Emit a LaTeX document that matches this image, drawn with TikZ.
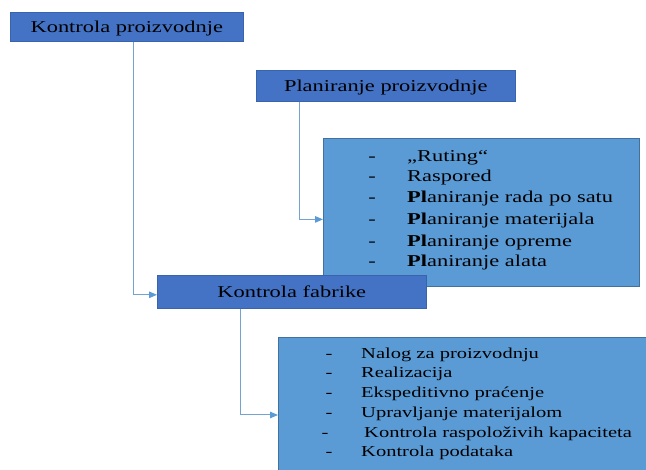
\documentclass[tikz,border=0pt]{standalone}
\usepackage{fontspec}
\setmainfont{Liberation Serif}[FakeStretch=1.35]
\usetikzlibrary{arrows.meta,calc}
\definecolor{darkblue}{HTML}{4472C4}
\definecolor{darkedge}{HTML}{3A63AE}
\definecolor{lightblue}{HTML}{5B9BD5}
\definecolor{lightedge}{HTML}{41719C}
\definecolor{connc}{HTML}{74A3D2}
\definecolor{tipc}{HTML}{5B9BD5}
\begin{document}
\begin{tikzpicture}[x=1pt,y=-1pt,
  darkbox/.style={draw=darkedge,fill=darkblue,line width=0.6pt,inner sep=0pt,
    text height=13pt,text depth=2pt,font=\fontsize{16.6}{20}\selectfont},
  listbox/.style={draw=lightedge,fill=lightblue,line width=0.8pt,inner sep=0pt,anchor=north west},
  itemtxt/.style={anchor=base west,inner sep=0pt,font=\fontsize{16.6}{20}\selectfont},
  dashtxt/.style={anchor=base,inner sep=0pt,font=\fontsize{16.6}{20}\selectfont},
  itemtxtb/.style={itemtxt,font=\fontsize{15.2}{18}\selectfont},
  dashtxtb/.style={dashtxt,font=\fontsize{15.2}{18}\selectfont},
  conn/.style={draw=connc,line width=1pt,-{Triangle[length=8pt,width=6.5pt,fill=tipc,color=tipc]}}]
\useasboundingbox (0,0) rectangle (646,470);
\fill[white] (0,0) rectangle (646,470);

% list boxes
\node[listbox,minimum width=316,minimum height=148] (l1) at (323,138) {};
\node[fill=lightblue,inner sep=0pt,anchor=north west,minimum width=368,minimum height=133] (l2) at (278,337) {};
\draw[lightedge,line width=0.8pt] (l2.south west) -- (l2.north west) -- (l2.north east);

% header boxes
\node[darkbox,minimum width=233,minimum height=29,anchor=north west] (kp) at (10,12) {Kontrola proizvodnje};
\node[darkbox,minimum width=259,minimum height=31,anchor=north west] (pp) at (256,70) {Planiranje proizvodnje};
\node[darkbox,minimum width=269,minimum height=33,anchor=north west] (kf) at (157,275) {Kontrola fabrike};

% list 1
\foreach \t/\y [count=\i] in {„Ruting“/162,Raspored/182,\textbf{Pl}aniranje rada po satu/203,\textbf{Pl}aniranje materijala/225,\textbf{Pl}aniranje opreme/247,\textbf{Pl}aniranje alata/267}{
  \node[dashtxt] (ad\i) at (372,\y) {-};
  \node[itemtxt] (at\i) at (407,\y) {\t};
}
% list 2
\foreach \t/\y/\dx/\tx [count=\i] in {Nalog za proizvodnju/359/329/361,Realizacija/378/329/361,Ekspeditivno praćenje/398/329/361,Upravljanje materijalom/418/329/361,Kontrola raspoloživih kapaciteta/438/325/364,Kontrola podataka/457/329/361}{
  \node[dashtxtb] (bd\i) at (\dx,\y) {-};
  \node[itemtxtb] (bt\i) at (\tx,\y) {\t};
}

% connectors
\draw[conn] ($(kp.south west)+(123,0)$) |- ($(kf.west)+(0,3)$);
\draw[conn] ($(pp.south west)+(43,0)$) |- ($(l1.west)+(0,7)$);
\draw[conn] ($(kf.south west)+(83,0)$) |- ($(l2.north west)+(0,78)$);
\end{tikzpicture}
\end{document}
